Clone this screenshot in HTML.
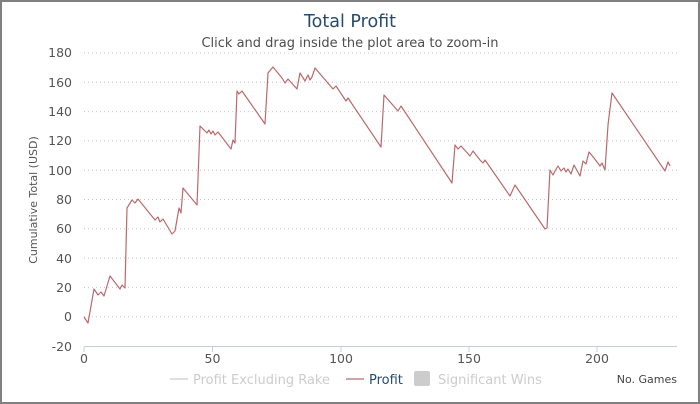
<!DOCTYPE html>
<html><head><meta charset="utf-8"><style>
html,body{margin:0;padding:0;background:#fff}
svg{display:block;font-family:"DejaVu Sans","Liberation Sans",sans-serif}
</style></head><body>
<svg width="700" height="404" viewBox="0 0 700 404">
<rect x="1" y="1" width="698" height="402" fill="#fff" stroke="#808080" stroke-width="2"/>
<text x="350" y="27" text-anchor="middle" font-size="17.5" fill="#274b6d">Total Profit</text>
<text x="350" y="47" text-anchor="middle" font-size="13" fill="#4d4d4d">Click and drag inside the plot area to zoom-in</text>
<g stroke="#c8c8c8" stroke-width="1" stroke-dasharray="1,3">
<line x1="84" x2="677" y1="53" y2="53"/>
<line x1="84" x2="677" y1="82.3" y2="82.3"/>
<line x1="84" x2="677" y1="111.6" y2="111.6"/>
<line x1="84" x2="677" y1="140.9" y2="140.9"/>
<line x1="84" x2="677" y1="170.2" y2="170.2"/>
<line x1="84" x2="677" y1="199.5" y2="199.5"/>
<line x1="84" x2="677" y1="228.8" y2="228.8"/>
<line x1="84" x2="677" y1="258.1" y2="258.1"/>
<line x1="84" x2="677" y1="287.4" y2="287.4"/>
<line x1="84" x2="677" y1="316.7" y2="316.7"/>
</g>
<g font-size="12.5" fill="#555" text-anchor="end">
<text x="72" y="57">180</text><text x="72" y="87">160</text><text x="72" y="116">140</text>
<text x="72" y="145">120</text><text x="72" y="175">100</text><text x="72" y="204">80</text>
<text x="72" y="233">60</text><text x="72" y="263">40</text><text x="72" y="292">20</text>
<text x="72" y="321">0</text><text x="72" y="351">-20</text>
</g>
<text transform="translate(37,200) rotate(-90)" text-anchor="middle" font-size="11" fill="#555">Cumulative Total (USD)</text>
<line x1="84" x2="677" y1="346.5" y2="346.5" stroke="#c0d0e0"/>
<g stroke="#c0d0e0"><line x1="84" x2="84" y1="347" y2="352"/><line x1="212.5" x2="212.5" y1="347" y2="352"/><line x1="341" x2="341" y1="347" y2="352"/><line x1="469" x2="469" y1="347" y2="352"/><line x1="597" x2="597" y1="347" y2="352"/></g>
<g font-size="12.5" fill="#555" text-anchor="middle">
<text x="84" y="363">0</text><text x="212.5" y="363">50</text><text x="341" y="363">100</text><text x="469" y="363">150</text><text x="597" y="363">200</text>
</g>
<polyline fill="none" stroke="#b96a6e" stroke-width="1.2" stroke-linejoin="round" points="84,317 88,323 94,289 98,295 101,292 104,296 110,276 120,289 122,285 125,288 127,208 132,200 135,203 138,199 155,220 158,217 160,222 163,219 172,234 175,231 179,208 181,213 183,188 197,205 200,126 207,133 209,130 211,134 213,131 215,135 218,132 231,149 233,140 235,143 237,91 239,94 242,91 265,124 268,73 273,67 282,78 285,83 288,79 297,89 300,73 305,81 308,75 310,80 312,77 315,68 333,89 336,86 346,101 348,98 381,147 384,95 398,111 401,106 452,183 455,145 458,149 461,146 470,156 473,151 480,160 483,163 485,160 510,196 515,185 545,229 547,228 550,170 553,175 555,171 558,166 561,171 564,168 566,172 568,169 571,174 574,165 580,176 583,161 586,164 589,152 594,158 600,166 602,163 605,170 608,125 612,93 665,171 668,162 670,166"/>
<g font-size="13">
<line x1="170" x2="188" y1="379" y2="379" stroke="#ccc" stroke-width="1.2"/>
<text x="193" y="384" fill="#ccc">Profit Excluding Rake</text>
<line x1="346" x2="364" y1="379" y2="379" stroke="#b96a6e" stroke-width="1.2"/>
<text x="369" y="384" fill="#274b6d">Profit</text>
<rect x="414" y="371" width="16" height="15" rx="2" fill="#ccc"/>
<text x="438" y="384" fill="#ccc">Significant Wins</text>
</g>
<text x="677" y="383" text-anchor="end" font-size="11" fill="#444">No. Games</text>
</svg>
</body></html>
